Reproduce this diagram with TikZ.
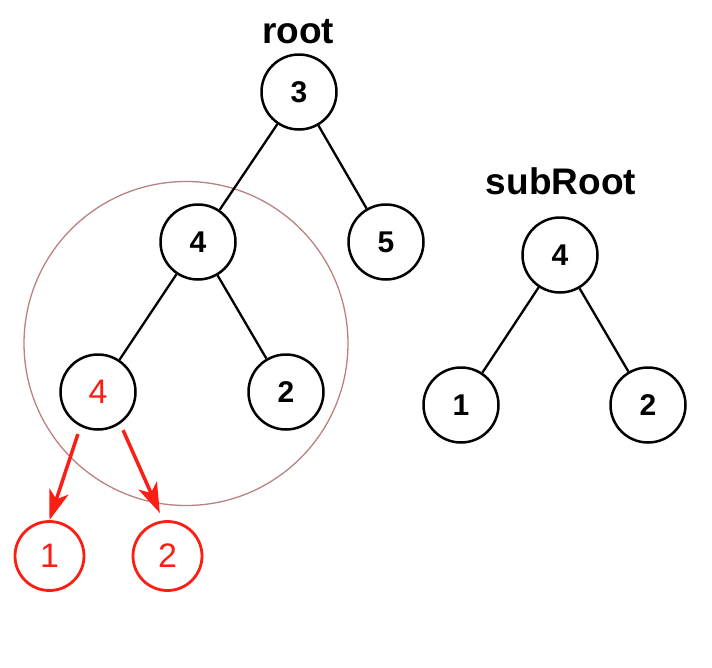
\documentclass[tikz,border=0pt]{standalone}
\usepackage{fontspec}
\setmainfont{Liberation Sans}
\usetikzlibrary{arrows.meta}
\definecolor{hitred}{RGB}{250,30,20}
\definecolor{ringrose}{RGB}{185,130,130}

\begin{document}
\begin{tikzpicture}[
        x=1pt, y=-1pt,
        font=\fontsize{30}{36}\selectfont\bfseries,
        tnode/.style={circle, draw, line width=2.5pt, minimum size=75pt, inner sep=0pt},
        hit/.style={circle, draw=hitred, text=hitred, line width=2.8pt, minimum size=69pt, inner sep=0pt, font=\fontsize{34}{36}\selectfont},
        title/.style={anchor=base, font=\fontsize{37}{40}\selectfont\bfseries},
        edge/.style={line width=2.3pt},
        pick/.style={-{Stealth[length=30pt, width=20pt, inset=8pt]}, hitred, line width=3.5pt},
      ]
        \useasboundingbox (0,0) rectangle (712,667);

        % big tree
        \node[title] (rootlbl) at (298,43) {root};
        \node[tnode] (r3) at (299,92) {3};
        \node[tnode] (a4) at (198,242) {4};
        \node[tnode] (a5) at (386,242) {5};
        \node[tnode, text=hitred, font=\fontsize{34}{36}\selectfont] (b4) at (98,392) {4};
        \node[tnode] (b2) at (286,392) {2};

        % ring round the matching part
        \node[circle, draw=ringrose, line width=1.3pt, minimum size=324pt] (ring) at (186,343.5) {};

        % sub tree
        \node[title] (sublbl) at (561,194) {subRoot};
        \node[tnode] (s4) at (560,255) {4};
        \node[tnode] (s1) at (461,405) {1};
        \node[tnode] (s2) at (648,405) {2};

        % red children
        \node[hit] (c1) at (49.5,556) {1};
        \node[hit] (c2) at (167.5,556) {2};

        \draw[edge] (r3) -- (a4);
        \draw[edge] (r3) -- (a5);
        \draw[edge] (a4) -- (b4);
        \draw[edge] (a4) -- (b2);
        \draw[edge] (s4) -- (s1);
        \draw[edge] (s4) -- (s2);

        \draw[pick, shorten <=8pt] (b4.243) -- (c1.north);
        \draw[pick, shorten <=7pt, shorten >=8pt] (b4.305) -- (c2.97);
      \end{tikzpicture}
\end{document}
